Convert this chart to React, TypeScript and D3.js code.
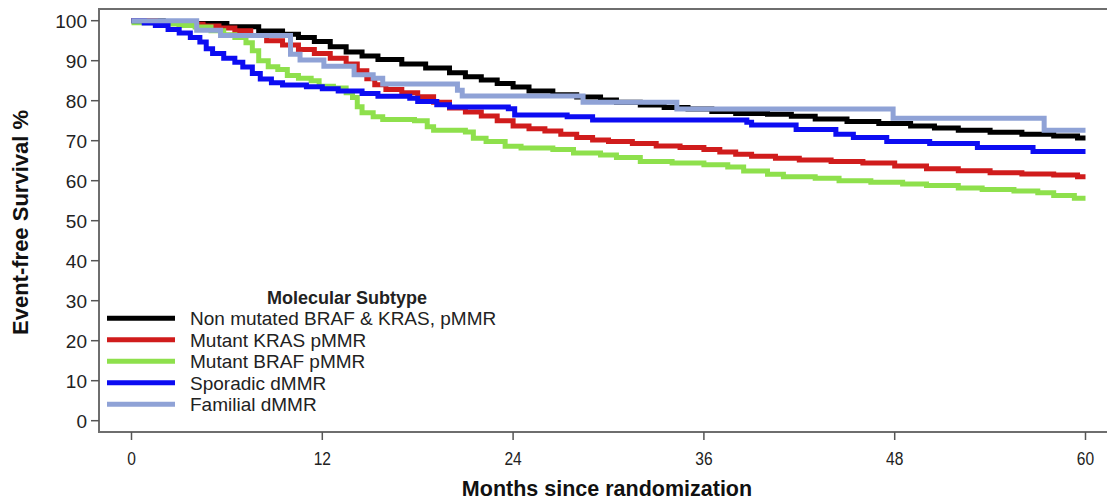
import React from "react";
import * as d3 from "d3";

// ---- Data ----
const xTicks = [0, 12, 24, 36, 48, 60];
const yTicks = [0, 10, 20, 30, 40, 50, 60, 70, 80, 90, 100];

const seriesNames = [
  "Non mutated BRAF & KRAS, pMMR",
  "Mutant KRAS pMMR",
  "Mutant BRAF pMMR",
  "Sporadic dMMR",
  "Familial dMMR",
];
const seriesColors = ["#000000", "#d01c1c", "#8ee04c", "#0c0cf2", "#8fa2d6"];

const nonMutated: [number, number][] = [
  [0, 100], [2, 99.6], [4, 99.3], [6, 98.5], [8, 97.4], [9.5, 96.6], [10.5, 95.8], [11.5, 94.8],
  [12.5, 93.5], [13.5, 92.2], [14.5, 91.2], [15.5, 90.3], [17, 89.2], [18.5, 88.2], [20, 87],
  [21, 86], [22, 85.2], [23, 84.3], [24, 83.4], [25, 82.4], [26.5, 81.5], [28, 80.9], [29.5, 80.2],
  [30.5, 79.6], [32, 78.9], [33.5, 78.3], [35, 77.9], [36.5, 77.3], [38, 76.8], [40, 76.6],
  [41.5, 76.1], [43, 75.4], [45, 74.8], [47, 74.3], [49, 73.7], [50.5, 73.2], [52, 72.6],
  [54, 72.1], [56, 71.6], [58, 71.2], [59.5, 70.7], [60, 70.7],
];
const mutantKRAS: [number, number][] = [
  [0, 100], [1.5, 99.5], [3, 99.1], [4.5, 98.7], [5.5, 98.2], [6.5, 97.5], [7.5, 96.3], [8.5, 95],
  [9.5, 93.9], [10.5, 92.8], [11.5, 91.8], [12.5, 90.6], [13.5, 89.2], [14.2, 87.5], [14.8, 85.5],
  [15.3, 84], [16, 82.8], [17, 82], [18, 81], [19, 79.6], [20, 78.2], [21, 77.2], [22, 76.2],
  [23, 75], [24, 73.7], [25, 73], [26, 72.4], [27, 71.6], [28, 70.8], [29, 70.2], [30, 69.8],
  [31.5, 69.3], [33, 68.7], [34.5, 68.3], [36, 67.8], [37, 67.2], [38, 66.6], [39, 66.1],
  [40.5, 65.6], [42, 65.2], [44, 64.8], [46, 64.4], [48, 63.7], [50, 63], [52, 62.5], [54, 62],
  [56, 61.7], [58, 61.4], [59.5, 61], [60, 61],
];
const mutantBRAF: [number, number][] = [
  [0, 99.5], [2, 99.2], [3, 98.8], [4, 98.4], [5, 97.5], [5.8, 96.5], [6.5, 95.8], [7.2, 94.5],
  [7.6, 92.5], [8, 90], [8.6, 88.5], [9.2, 87.8], [9.8, 86.3], [10.5, 85.6], [11.3, 85],
  [11.8, 83.6], [12.7, 83.2], [13.5, 82], [13.9, 80.8], [14.2, 78.5], [14.5, 77], [15.2, 76],
  [15.8, 75.3], [17.8, 75], [18.6, 73.5], [19, 72.6], [21, 72.2], [21.5, 70.6], [22.3, 69.8],
  [23.5, 68.6], [24.5, 68.2], [26.5, 67.8], [27.8, 66.9], [29.5, 66.4], [30.5, 65.8], [32, 64.8],
  [34, 64.4], [36, 64], [37.5, 63.4], [38.5, 62.4], [40, 61.6], [41, 61], [43, 60.6], [44.5, 60],
  [46.5, 59.6], [48.5, 59.2], [50, 58.8], [52, 58.2], [53.5, 57.8], [55.5, 57.4], [57, 57],
  [58, 56.3], [59.3, 55.6], [60, 55.6],
];
const sporadicDMMR: [number, number][] = [
  [0, 100], [0.8, 99.4], [1.5, 98.8], [2.3, 97.8], [3, 96.9], [3.7, 95.8], [4.3, 94.7], [4.7, 93],
  [5.1, 91.8], [5.8, 90.6], [6.5, 89.6], [7, 88.4], [7.6, 86.8], [8.1, 85.4], [8.8, 84.5],
  [9.5, 83.9], [11, 83.5], [12, 83], [13, 82.4], [14.5, 81.8], [15.5, 81.1], [17.5, 80.6],
  [18, 79.8], [19.2, 79], [20, 78.4], [23.7, 78], [24.1, 76.4], [27.4, 76], [29, 75.2],
  [38.7, 74.6], [39, 73.9], [41.8, 72.8], [44.3, 71.6], [45.4, 70.8], [47.5, 69.8], [50.2, 69.3],
  [53.2, 68.3], [56.7, 67.3], [60, 67.3],
];
const familialDMMR: [number, number][] = [
  [0, 100], [4.1, 97.6], [5.6, 96.3], [10, 91.6], [10.6, 90.2], [12.1, 88.6], [14, 86.5],
  [15.2, 85.6], [15.8, 84.2], [20.5, 82.6], [20.8, 81.2], [28.4, 79.6], [34.3, 77.9],
  [47.9, 75.6], [57.4, 72.6], [60, 72.6],
];
const seriesData = [nonMutated, mutantKRAS, mutantBRAF, sporadicDMMR, familialDMMR];

const W = 1107;
const H = 502;

export default function App() {
  const x = d3.scaleLinear().domain([0, 60]).range([131.5, 1085.5]);
  const y = d3.scaleLinear().domain([0, 100]).range([420.7, 20.7]);
  const line = d3
    .line<[number, number]>()
    .x((d) => x(d[0]))
    .y((d) => y(d[1]))
    .curve(d3.curveStepAfter);

  const frameLeft = 99;
  const frameTop = 9;
  const frameBottom = 432;
  const axisColor = "#6e6e6e";
  const font = "'Liberation Sans', Arial, Helvetica, sans-serif";

  const legendRowY = (i: number) => 318.3 + i * 21.5;

  return (
    <svg
      width={W}
      height={H}
      viewBox={`0 0 ${W} ${H}`}
      style={{ position: "absolute", left: 0, top: 0, background: "#fff" }}
    >
      <rect x={0} y={0} width={W} height={H} fill="#fff" />
      {/* frame */}
      <path
        d={`M${W + 5},${frameTop}H${frameLeft}V${frameBottom}H${W + 5}`}
        fill="none"
        stroke={axisColor}
        strokeWidth={2}
      />
      {/* y ticks */}
      {yTicks.map((t) => (
        <g key={"y" + t}>
          <line x1={91} x2={frameLeft} y1={y(t)} y2={y(t)} stroke="#555" strokeWidth={1.5} />
          <text
            x={87}
            y={y(t)}
            dy="0.36em"
            textAnchor="end"
            fontFamily={font}
            fontSize={19}
            fill="#222"
          >
            {t}
          </text>
        </g>
      ))}
      {/* x ticks */}
      {xTicks.map((t) => (
        <g key={"x" + t}>
          <line x1={x(t)} x2={x(t)} y1={frameBottom} y2={440} stroke="#555" strokeWidth={1.5} />
          <text
            transform={`translate(${x(t)},465) scale(0.82,1)`}
            textAnchor="middle"
            fontFamily={font}
            fontSize={19}
            fill="#222"
          >
            {t}
          </text>
        </g>
      ))}
      {/* axis titles */}
      <text
        x={607}
        y={496}
        textAnchor="middle"
        fontFamily={font}
        fontWeight="bold"
        fontSize={21.5}
        fill="#111"
      >
        Months since randomization
      </text>
      <text
        transform={`translate(28,222.5) rotate(-90)`}
        textAnchor="middle"
        fontFamily={font}
        fontWeight="bold"
        fontSize={22}
        fill="#111"
      >
        Event-free Survival %
      </text>
      {/* curves */}
      {seriesData.map((d, i) => (
        <path
          key={"s" + i}
          d={line(d) || ""}
          fill="none"
          stroke={seriesColors[i]}
          strokeWidth={5}
          strokeLinejoin="miter"
          strokeLinecap="butt"
        />
      ))}
      {/* legend */}
      <text
        x={347}
        y={304}
        textAnchor="middle"
        fontFamily={font}
        fontWeight="bold"
        fontSize={18}
        fill="#222"
      >
        Molecular Subtype
      </text>
      {seriesNames.map((name, i) => (
        <g key={"l" + i}>
          <line
            x1={107}
            x2={175}
            y1={legendRowY(i)}
            y2={legendRowY(i)}
            stroke={seriesColors[i]}
            strokeWidth={5}
          />
          <text
            x={190}
            y={legendRowY(i)}
            dy="0.36em"
            fontFamily={font}
            fontSize={19}
            fill="#222"
          >
            {name}
          </text>
        </g>
      ))}
    </svg>
  );
}
